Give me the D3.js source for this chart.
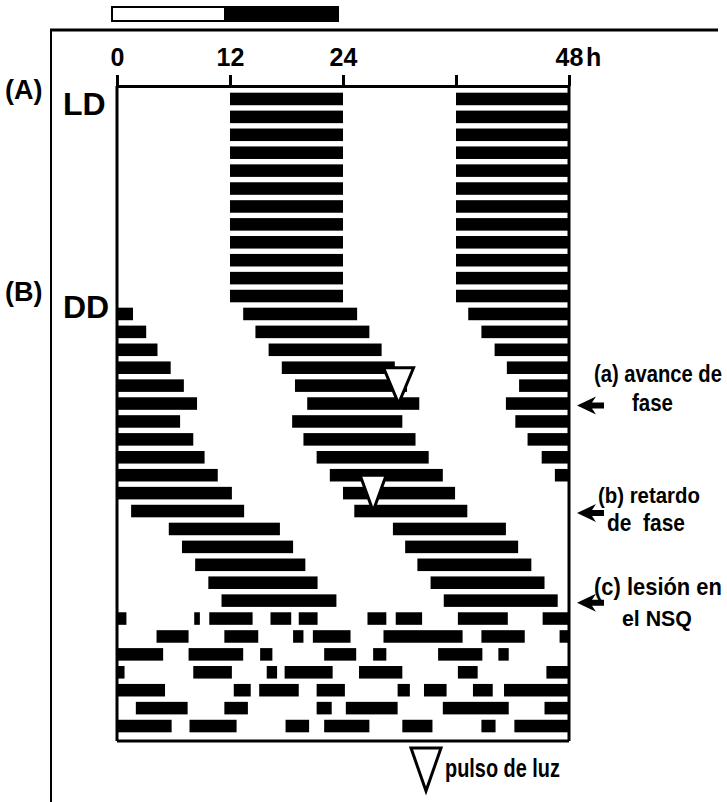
<!DOCTYPE html>
<html>
<head>
<meta charset="utf-8">
<script src="https://cdn.jsdelivr.net/npm/d3@7"></script>
<style>
  html, body { margin: 0; padding: 0; background: #fff; }
  svg { display: block; }
  text { font-family: "Liberation Sans", Arial, Helvetica, sans-serif; font-weight: bold; fill: #000; }
</style>
</head>
<body>
<svg id="chart"></svg>
<script>
// hours on the double-plotted axis
const hourTicks = [0, 12, 24, 36, 48];
const hourLabels = ['0', '12', '24', '', '48'];

// light / dark bar above the chart (hours)
const lightCycle = [[0, 12, '#fff'], [12, 24, '#000']];

// activity bars: [row, start h, end h]
const ldBars = [
    [1, 12, 24], [1, 36, 48], [2, 12, 24], [2, 36, 48],
    [3, 12, 24], [3, 36, 48], [4, 12, 24], [4, 36, 48],
    [5, 12, 24], [5, 36, 48], [6, 12, 24], [6, 36, 48],
    [7, 12, 24], [7, 36, 48], [8, 12, 24], [8, 36, 48],
    [9, 12, 24], [9, 36, 48], [10, 12, 24], [10, 36, 48],
    [11, 12, 24], [11, 36, 48], [12, 12, 24], [12, 36, 48]
];

const freeRunBars = [
    [13, 0, 1.7], [13, 13.4, 25.5], [13, 37.3, 48],
    [14, 0, 3.1], [14, 14.7, 26.8], [14, 38.7, 48],
    [15, 0, 4.3], [15, 16.1, 28.1], [15, 40.1, 48],
    [16, 0, 5.7], [16, 17.5, 29.5], [16, 41.4, 48],
    [17, 0, 7.1], [17, 18.9, 30.8], [17, 42.7, 48]
];

const advanceBars = [
    [18, 0, 8.5], [18, 20.2, 32.1], [18, 41.3, 48],
    [19, 0, 6.7], [19, 18.6, 30.3], [19, 42.3, 48],
    [20, 0, 8.1], [20, 19.8, 31.7], [20, 43.6, 48],
    [21, 0, 9.3], [21, 21.2, 33.1], [21, 45.1, 48],
    [22, 0, 10.7], [22, 22.6, 34.6], [22, 46.5, 48],
    [23, 0, 12.2], [23, 24.0, 35.9],
    [24, 1.5, 13.5], [24, 25.2, 37.2]
];

const delayBars = [
    [25, 5.5, 17.3], [25, 29.3, 41.3],
    [26, 6.9, 18.7], [26, 30.6, 42.6],
    [27, 8.3, 20.0], [27, 31.9, 44.0],
    [28, 9.7, 21.3], [28, 33.3, 45.4],
    [29, 11.1, 23.3], [29, 34.7, 46.8]
];

const arrhythmicBars = [
    [30, 0, 1.0], [30, 8.2, 8.8], [30, 9.8, 14.4], [30, 16.3, 18.5], [30, 19.3, 21.3],
    [30, 26.6, 28.6], [30, 29.6, 32.4], [30, 36.2, 41.5], [30, 45.2, 48],
    [31, 4.2, 7.6], [31, 11.4, 15.0], [31, 18.7, 19.8], [31, 20.8, 24.8],
    [31, 28.3, 36.7], [31, 38.7, 43.3], [31, 47.0, 48],
    [32, 0, 4.9], [32, 7.6, 13.4], [32, 15.2, 16.5], [32, 22.0, 25.4],
    [32, 27.2, 28.6], [32, 34.1, 38.8], [32, 40.5, 41.6],
    [33, 0, 0.8], [33, 8.1, 12.2], [33, 15.9, 17.0], [33, 17.8, 22.9],
    [33, 25.7, 30.3], [33, 36.2, 38.3], [33, 45.6, 48],
    [34, 0, 5.1], [34, 12.4, 14.2], [34, 15.1, 19.3], [34, 21.2, 24.2],
    [34, 29.8, 31.1], [34, 32.6, 35.0], [34, 37.8, 39.9], [34, 41.1, 48],
    [35, 2.0, 7.5], [35, 11.4, 13.9], [35, 21.2, 22.8], [35, 24.3, 29.8],
    [35, 34.6, 41.6], [35, 45.4, 48],
    [36, 0, 5.8], [36, 7.7, 12.7], [36, 17.9, 20.4], [36, 22.0, 26.8],
    [36, 30.3, 33.5], [36, 38.7, 40.2], [36, 42.2, 48]
];

// light pulses: apex row, hour, width in px
const pulses = [[18, 29.9, 30], [24, 27.2, 26]];

// annotations on the right, arrow row
const noteRows = [18, 24, 29];
const noteLines = [
    ['(a) avance de', 594, 382, 128], ['fase', 632, 411, 41],
    ['(b) retardo', 598, 503, 102], ['de  fase', 607, 531, 78],
    ['(c) lesión en', 594, 595, 128], ['el NSQ', 622, 626, 70]
];

const width = 727, height = 802;
const rowCount = 36;

const svg = d3.select('#chart')
    .attr('width', width)
    .attr('height', height);

svg.append('rect')
    .attr('width', width)
    .attr('height', height)
    .attr('fill', '#fff');

const x = d3.scaleLinear()
    .domain([0, 48])
    .range([117, 569]);

const y = d3.scaleBand()
    .domain(d3.range(1, rowCount + 1))
    .range([90, 735])
    .paddingInner(0.3)
    .paddingOuter(0.15);

const bw = y.bandwidth();
const mid = r => y(r) + bw / 2;

// squeeze a text horizontally to a given width
function fitText(sel, w) {
    sel.each(function(d) {
        const t = d3.select(this);
        const target = typeof w === 'function' ? w(d) : w;
        const natural = this.getComputedTextLength();
        const tx = +t.attr('x'), ty = +t.attr('y');
        t.attr('x', 0).attr('y', 0)
            .attr('transform', `translate(${tx}, ${ty}) scale(${target / natural}, 1)`);
    });
}

// outer frame (scan border)
svg.append('line')
    .attr('x1', 50).attr('x2', 718)
    .attr('y1', 30).attr('y2', 30)
    .attr('stroke', '#000').attr('stroke-width', 3);
svg.append('line')
    .attr('x1', 51).attr('x2', 51)
    .attr('y1', 30).attr('y2', height)
    .attr('stroke', '#000').attr('stroke-width', 2);

// light / dark bar
svg.append('g')
    .attr('transform', 'translate(-5, 0)')
    .selectAll('rect')
    .data(lightCycle)
    .join('rect')
    .attr('x', d => x(d[0]))
    .attr('y', 7)
    .attr('width', d => x(d[1]) - x(d[0]))
    .attr('height', 14)
    .attr('fill', d => d[2])
    .attr('stroke', '#000')
    .attr('stroke-width', 2);

// top axis
const axis = d3.axisTop(x)
    .tickValues(hourTicks)
    .tickFormat((d, i) => hourLabels[i])
    .tickSize(11)
    .tickSizeOuter(0)
    .tickPadding(9);

const axisG = svg.append('g')
    .attr('transform', 'translate(0, 86)')
    .call(axis);
axisG.select('.domain').attr('stroke-width', 3);
axisG.selectAll('.tick line').attr('stroke-width', 3);
axisG.selectAll('.tick text')
    .attr('font-size', 25)
    .attr('font-family', '"Liberation Sans", Arial, sans-serif')
    .attr('font-weight', 'bold');

svg.append('text')
    .attr('x', x(48) + 17)
    .attr('y', 66)
    .attr('font-size', 25)
    .text('h');

// frame of the actogram
const frame = svg.append('g')
    .attr('stroke', '#000')
    .attr('stroke-width', 3);
frame.append('line')
    .attr('x1', x(0)).attr('x2', x(0))
    .attr('y1', 86).attr('y2', 741);
frame.append('line')
    .attr('x1', x(48)).attr('x2', x(48))
    .attr('y1', 86).attr('y2', 741);
frame.append('line')
    .attr('x1', x(0)).attr('x2', x(48))
    .attr('y1', 741).attr('y2', 741);

// activity bars
const allBars = [].concat(ldBars, freeRunBars, advanceBars, delayBars, arrhythmicBars);
svg.append('g')
    .selectAll('rect')
    .data(allBars)
    .join('rect')
    .attr('x', d => x(d[1]))
    .attr('y', d => y(d[0]))
    .attr('width', d => x(d[2]) - x(d[1]))
    .attr('height', bw)
    .attr('fill', '#000');

// light pulse triangles
svg.append('g')
    .selectAll('path')
    .data(pulses)
    .join('path')
    .attr('d', d => {
        const cx = x(d[1]), bottom = mid(d[0]), top = mid(d[0] - 2), hw = d[2] / 2;
        return `M${cx - hw},${top}L${cx + hw},${top}L${cx},${bottom}Z`;
    })
    .attr('fill', '#fff')
    .attr('stroke', '#000')
    .attr('stroke-width', 3)
    .attr('stroke-linejoin', 'miter');

// section labels
svg.append('text').attr('x', 5).attr('y', 99).attr('font-size', 27).text('(A)');
svg.append('text').attr('x', 63).attr('y', 115).attr('font-size', 32).text('LD');
svg.append('text').attr('x', 5).attr('y', 301).attr('font-size', 27).text('(B)');
svg.append('text').attr('x', 63).attr('y', 318).attr('font-size', 32).text('DD');

// arrows on the right
svg.append('g')
    .selectAll('path')
    .data(noteRows)
    .join('path')
    .attr('transform', d => `translate(${x(48) + 8}, ${mid(d) + 2})`)
    .attr('d', 'M0,0L19,-9L15,-3L27,-3L27,3L15,3L19,9Z')
    .attr('fill', '#000');

svg.append('g')
    .selectAll('text')
    .data(noteLines)
    .join('text')
    .attr('x', d => d[1])
    .attr('y', d => d[2])
    .attr('font-size', 23)
    .style('white-space', 'pre')
    .text(d => d[0])
    .call(fitText, d => d[3]);

// legend
svg.append('path')
    .attr('d', 'M411,748L441,748L426,791Z')
    .attr('fill', '#fff')
    .attr('stroke', '#000')
    .attr('stroke-width', 3);
svg.append('text')
    .attr('x', 445)
    .attr('y', 777)
    .attr('font-size', 26)
    .text('pulso de luz')
    .call(fitText, 115);
</script>
</body>
</html>
